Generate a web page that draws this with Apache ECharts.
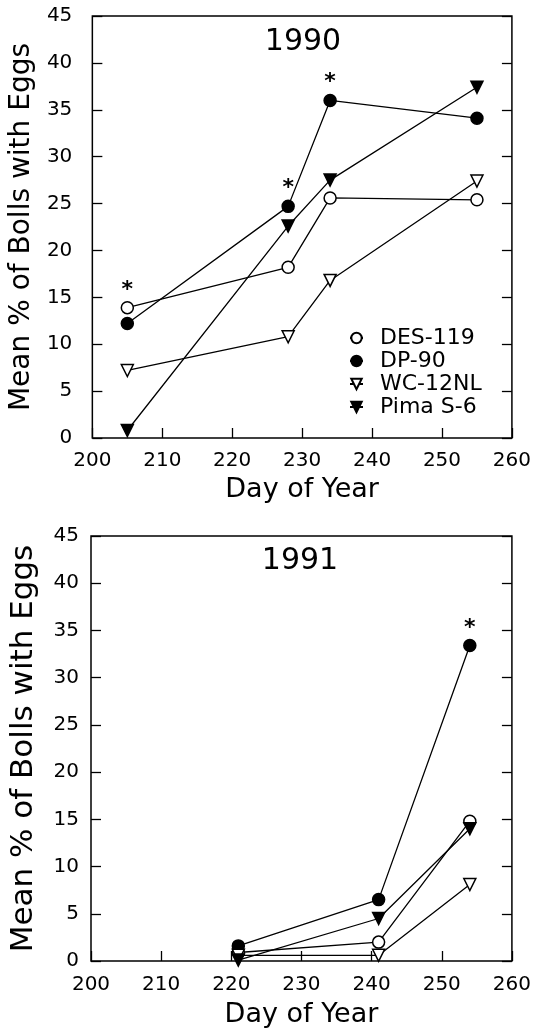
<!DOCTYPE html>
<html>
<head>
<meta charset="utf-8">
<script src="https://cdn.jsdelivr.net/npm/echarts@6/dist/echarts.min.js"></script>
<style>
  html, body { margin: 0; padding: 0; background: #fff; }
  #chart { width: 534px; height: 1032px; }
</style>
</head>
<body>
<div id="chart"></div>
<script>
// 1990
const days1990 = [205, 228, 234, 255]
const des1990 = [13.9, 18.2, 25.6, 25.4]
const dp1990 = [12.2, 24.7, 36.0, 34.1]
const wc1990 = [7.2, 10.8, 16.8, 27.4]
const pima1990 = [0.8, 22.6, 27.5, 37.4]
// significant points (asterisk)
const sig1990 = [['DES-119', 205], ['DP-90', 228], ['DP-90', 234]]

// 1991
const days1991 = [221, 241, 254]
const des1991 = [0.9, 2.0, 14.8]
const dp1991 = [1.6, 6.5, 33.4]
const wc1991 = [0.6, 0.6, 8.1]
const pima1991 = [0.1, 4.5, 14.0]
const sig1991 = [['DP-90', 254]]

const xTicks = [200, 210, 220, 230, 240, 250, 260]
const yTicks = [0, 5, 10, 15, 20, 25, 30, 35, 40, 45]

const FONT = 'DejaVu Sans'

const styles = {
  'DES-119': { symbol: 'circle', rotate: 0, fill: '#fff', size: 12 },
  'DP-90': { symbol: 'circle', rotate: 0, fill: '#000', size: 12 },
  'WC-12NL': { symbol: 'triangle', rotate: 180, fill: '#fff', size: 12 },
  'Pima S-6': { symbol: 'triangle', rotate: 180, fill: '#000', size: 12 }
}

function makeSeries (name, days, vals, sig, idx) {
  const st = styles[name]
  return {
    name: name,
    type: 'line',
    xAxisIndex: idx,
    yAxisIndex: idx * 2,
    symbol: st.symbol,
    symbolRotate: st.rotate,
    symbolSize: st.size,
    showAllSymbol: true,
    animation: false,
    lineStyle: { color: '#000', width: 1.3 },
    itemStyle: { color: st.fill, borderColor: '#000', borderWidth: 1.5 },
    data: days.map((d, i) => {
      const item = { value: [d, vals[i]] }
      if (sig.some(s => s[0] === name && s[1] === d)) {
        item.label = {
          show: true,
          formatter: '*',
          position: 'top',
          distance: 0,
          color: '#000',
          fontSize: 22,
          fontWeight: 'bold',
          fontFamily: FONT
        }
      }
      return item
    })
  }
}

function xAxis (gridIndex) {
  return {
    type: 'value',
    gridIndex: gridIndex,
    min: xTicks[0],
    max: xTicks[xTicks.length - 1],
    interval: 10,
    name: 'Day of Year',
    nameLocation: 'middle',
    nameGap: gridIndex === 0 ? 38 : 40,
    nameTextStyle: { color: '#000', fontSize: 27, fontFamily: FONT },
    axisLine: { show: false },
    axisTick: { inside: true, length: 10, lineStyle: { color: '#000', width: 1.3 } },
    axisLabel: { color: '#000', fontSize: 20, fontFamily: FONT, margin: gridIndex === 0 ? 13 : 14 },
    splitLine: { show: false }
  }
}

function yAxes (gridIndex) {
  return [{
    type: 'value',
    gridIndex: gridIndex,
    position: 'left',
    min: yTicks[0],
    max: yTicks[yTicks.length - 1],
    interval: 5,
    name: 'Mean % of Bolls with Eggs',
    nameLocation: 'middle',
    nameRotate: 90,
    nameGap: gridIndex === 0 ? 56 : 52,
    nameTextStyle: { color: '#000', fontSize: gridIndex === 0 ? 28 : 31, fontFamily: FONT },
    axisLine: { show: false },
    axisTick: { inside: true, length: 10, lineStyle: { color: '#000', width: 1.3 } },
    axisLabel: { color: '#000', fontSize: 20, fontFamily: FONT, margin: gridIndex === 0 ? 20 : 12 },
    splitLine: { show: false }
  }, {
    type: 'value',
    gridIndex: gridIndex,
    position: 'right',
    min: yTicks[0],
    max: yTicks[yTicks.length - 1],
    interval: 5,
    axisLine: { show: false },
    axisTick: { inside: true, length: 10, lineStyle: { color: '#000', width: 1.3 } },
    axisLabel: { show: false },
    splitLine: { show: false }
  }]
}

const chart = echarts.init(document.getElementById('chart'), null, { renderer: 'canvas' })

const option = {
  backgroundColor: '#fff',
  animation: false,
  title: [
    { text: '1990', left: 298, top: 22, textAlign: 'center', textStyle: { color: '#000', fontSize: 30, fontWeight: 'normal', fontFamily: FONT } },
    { text: '1991', left: 295, top: 541, textAlign: 'center', textStyle: { color: '#000', fontSize: 30, fontWeight: 'normal', fontFamily: FONT } }
  ],
  legend: {
    orient: 'vertical',
    left: 344,
    top: 322,
    itemWidth: 13,
    itemHeight: 13,
    itemGap: 1,
    data: ['DES-119', 'DP-90', 'WC-12NL', 'Pima S-6'],
    textStyle: { color: '#000', fontSize: 22, fontFamily: FONT, padding: [0, 0, 0, 12] }
  },
  grid: [
    { left: 91, top: 16, width: 422, height: 422, show: true, borderColor: '#000', borderWidth: 1.5, backgroundColor: 'transparent' },
    { left: 90, top: 536, width: 422, height: 425, show: true, borderColor: '#000', borderWidth: 1.5, backgroundColor: 'transparent' }
  ],
  xAxis: [xAxis(0), xAxis(1)],
  yAxis: yAxes(0).concat(yAxes(1)),
  series: [
    makeSeries('DES-119', days1990, des1990, sig1990, 0),
    makeSeries('DP-90', days1990, dp1990, sig1990, 0),
    makeSeries('WC-12NL', days1990, wc1990, sig1990, 0),
    makeSeries('Pima S-6', days1990, pima1990, sig1990, 0),
    makeSeries('DES-119', days1991, des1991, sig1991, 1),
    makeSeries('DP-90', days1991, dp1991, sig1991, 1),
    makeSeries('WC-12NL', days1991, wc1991, sig1991, 1),
    makeSeries('Pima S-6', days1991, pima1991, sig1991, 1)
  ]
}

chart.setOption(option)
window.addEventListener('resize', function () {
  chart.resize()
})
</script>
</body>
</html>
